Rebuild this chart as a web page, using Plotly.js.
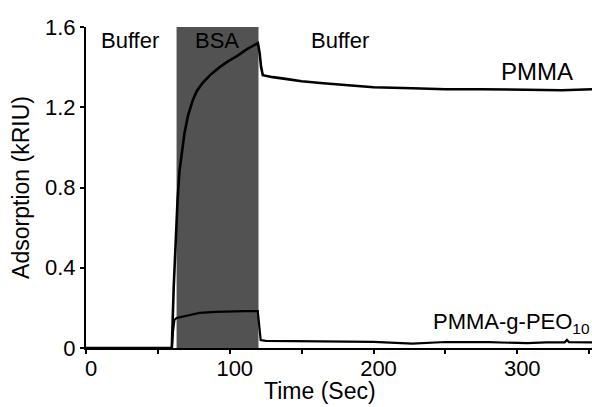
<!DOCTYPE html>
<html>
<head>
<meta charset="utf-8">
<script src="https://cdn.plot.ly/plotly-3.0.1.min.js"></script>
<style>
  html, body { margin: 0; padding: 0; background: #fff; }
  #chart { width: 592px; height: 407px; }
</style>
</head>
<body>
<div id="chart"></div>
<script>
// Sensorgram: BSA adsorption on bare PMMA vs PMMA-g-PEO10 surfaces
const pmmaTime = [0, 20, 40, 58, 59.7, 61, 62.5, 63.7, 65, 68.5, 71, 74.3, 77, 81, 87, 93, 99, 105, 112, 119.6, 120.8, 121.8, 123, 130, 140, 150, 165, 180, 200, 227, 250, 274, 300, 331, 352];
const pmmaAds  = [0, 0, 0, 0, 0, 0.3, 0.6, 0.74, 0.88, 1.07, 1.16, 1.235, 1.28, 1.32, 1.365, 1.40, 1.43, 1.455, 1.49, 1.52, 1.47, 1.40, 1.36, 1.35, 1.34, 1.33, 1.32, 1.31, 1.30, 1.295, 1.29, 1.29, 1.288, 1.285, 1.29];

const peoTime = [0, 58, 59.7, 60.5, 61.5, 63, 70, 79, 90, 102, 110, 119.5, 120.5, 121.5, 125, 140, 160, 180, 200, 227, 250, 280, 307, 320, 333, 334.6, 336, 352];
const peoAds  = [0, 0, 0, 0.08, 0.14, 0.15, 0.16, 0.175, 0.18, 0.184, 0.184, 0.184, 0.12, 0.04, 0.036, 0.035, 0.032, 0.031, 0.031, 0.022, 0.03, 0.029, 0.024, 0.028, 0.028, 0.04, 0.029, 0.028];

// Injection window of the BSA solution (seconds)
const bsaWindow = [63, 120];

// Phase labels and their anchor times
const phaseNames = ['Buffer', 'BSA', 'Buffer'];
const phaseTimes = [30.6, 91.1, 176.7];
const phaseLevel = 1.535;

const font = 'Liberation Sans, Arial, Helvetica, sans-serif';

const traces = [
  { x: pmmaTime, y: pmmaAds, mode: 'lines', name: 'PMMA',
    line: { color: '#000', width: 2.6 }, hoverinfo: 'skip' },
  { x: peoTime, y: peoAds, mode: 'lines', name: 'PMMA-g-PEO10',
    line: { color: '#000', width: 2.2 }, hoverinfo: 'skip' }
];

const annotations = phaseNames.map((t, i) => ({
  x: phaseTimes[i], y: phaseLevel, xref: 'x', yref: 'y', text: t,
  showarrow: false, font: { family: font, size: 22, color: '#000' }
}));
annotations.push({
  x: 313.7, y: 1.376, xref: 'x', yref: 'y', text: 'PMMA',
  showarrow: false, font: { family: font, size: 24, color: '#000' }
});
annotations.push({
  x: 351, y: 0.125, xref: 'x', yref: 'y', xanchor: 'right',
  text: 'PMMA-g-PEO<sub>10</sub>',
  showarrow: false, font: { family: font, size: 22, color: '#000' }
});
// x-axis title, set a little left of the plot centre, resting on the bottom edge
annotations.push({
  x: 0.4625, y: -0.181, xref: 'paper', yref: 'paper',
  xanchor: 'center', yanchor: 'bottom', text: 'Time (Sec)',
  showarrow: false, font: { family: font, size: 23, color: '#000' }
});

const layout = {
  width: 592, height: 407,
  margin: { l: 86, r: 0, t: 27, b: 59 },
  paper_bgcolor: '#fff', plot_bgcolor: '#fff',
  showlegend: false,
  font: { family: font, size: 22, color: '#000' },
  xaxis: {
    range: [0, 352], showgrid: false, zeroline: false,
    showline: true, linecolor: '#000', linewidth: 2,
    ticks: 'outside', ticklen: 4, tickwidth: 2, tickcolor: '#000',
    tick0: 0, dtick: 100, ticklabelstandoff: -4, ticklabelshift: 5,
    minor: { dtick: 50, ticks: 'outside', ticklen: 4, tickwidth: 2, tickcolor: '#000' },
    tickfont: { family: font, size: 22, color: '#000' }
  },
  yaxis: {
    range: [0, 1.6], showgrid: false, zeroline: false,
    showline: true, linecolor: '#000', linewidth: 2,
    ticks: 'outside', ticklen: 4, tickwidth: 2, tickcolor: '#000',
    tick0: 0, dtick: 0.4,
    tickfont: { family: font, size: 22, color: '#000' },
    title: { text: 'Adsorption (kRIU)', standoff: 9, font: { family: font, size: 23, color: '#000' } }
  },
  shapes: [{
    type: 'rect', xref: 'x', yref: 'y', layer: 'below',
    x0: bsaWindow[0], x1: bsaWindow[1], y0: 0, y1: 1.6,
    fillcolor: '#525252', line: { width: 0 }
  }],
  annotations: annotations
};

Plotly.newPlot('chart', traces, layout, { staticPlot: true, displayModeBar: false });
</script>
</body>
</html>
